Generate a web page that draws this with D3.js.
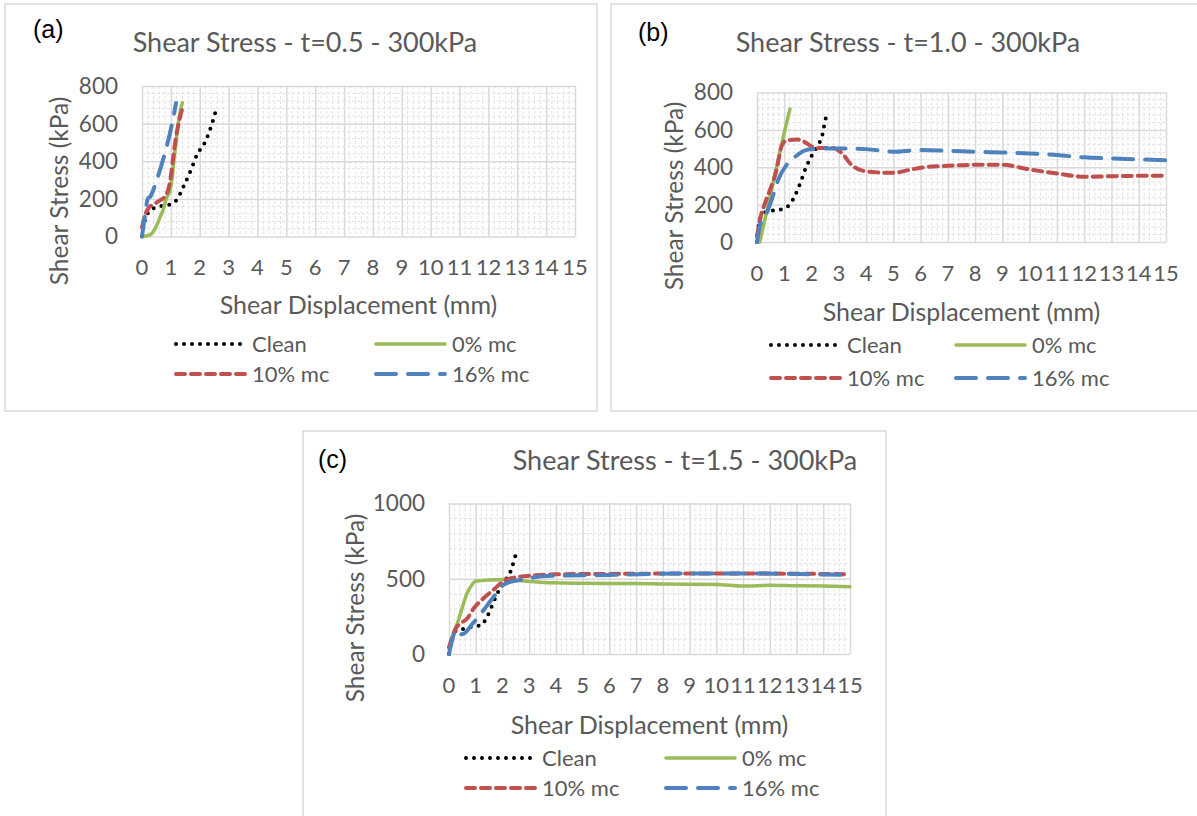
<!DOCTYPE html>
<html>
<head>
<meta charset="utf-8">
<script src="https://cdn.jsdelivr.net/npm/d3@7"></script>
<style>
	body { margin: 0; background: #fff; }
	svg text { font-family: Lato, 'Open Sans', sans-serif; fill: #595959; }
</style>
</head>
<body>
<svg id="chart" width="1197" height="816"></svg>
<script>
(function () {

	'use strict';

	var seriesNames = ['Clean', '0% mc', '10% mc', '16% mc'];
	var panelLabels = ['(a)', '(b)', '(c)'];
	var chartTitles = ['Shear Stress - t=0.5 - 300kPa', 'Shear Stress - t=1.0 - 300kPa', 'Shear Stress - t=1.5 - 300kPa'];
	var xTitle = 'Shear Displacement (mm)';
	var yTitle = 'Shear Stress (kPa)';
	var xTicks = d3.range(0, 16);
	var yTicksAB = [0, 200, 400, 600, 800];
	var yTicksC = [0, 500, 1000];

	// t = 0.5
	var cleanA = [[0, 0], [0.15, 110], [0.4, 150], [0.7, 163], [1.0, 172], [1.2, 195], [1.45, 270], [1.7, 355], [1.9, 433], [2.2, 506], [2.4, 588], [2.58, 680]];
	var zeroA = [[0, 0], [0.28, 9], [0.45, 40], [0.62, 100], [0.74, 146], [0.85, 205], [0.97, 244], [1.03, 297], [1.12, 422], [1.2, 529], [1.31, 654], [1.4, 711]];
	var tenA = [[0, 48], [0.1, 110], [0.22, 150], [0.4, 170], [0.6, 190], [0.8, 215], [0.92, 255], [1.0, 320], [1.08, 420], [1.17, 520], [1.28, 610], [1.42, 690]];
	var sixteenA = [[0, 0], [0.1, 110], [0.2, 200], [0.3, 215], [0.5, 295], [0.75, 420], [1.0, 570], [1.18, 710]];

	// t = 1.0
	var cleanB = [[0, 0], [0.05, 80], [0.2, 150], [0.45, 165], [0.7, 170], [1.0, 180], [1.2, 200], [1.4, 250], [1.6, 320], [1.8, 400], [2.0, 460], [2.2, 510], [2.4, 575], [2.5, 650], [2.6, 695]];
	var zeroB = [[0.1, 0], [0.4, 190], [0.7, 390], [1.0, 585], [1.21, 712]];
	var tenB = [[0, 30], [0.11, 120], [0.3, 210], [0.48, 280], [0.72, 388], [0.9, 512], [1.09, 545], [1.5, 548], [1.76, 534], [2.0, 512], [2.3, 503], [2.75, 503], [3.1, 477], [3.46, 414], [3.95, 379], [4.5, 372], [5.0, 370], [5.66, 388], [6.15, 400], [7, 408], [8, 413], [9, 413], [10, 388], [11, 367], [12, 349], [13, 352], [14, 354], [15, 354]];
	var sixteenB = [[0, 0], [0.17, 120], [0.29, 137], [0.54, 227], [0.78, 334], [1.09, 414], [1.39, 455], [1.88, 495], [2.6, 500], [3.2, 500], [4, 497], [5, 483], [6, 492], [7, 488], [8, 483], [9, 479], [10, 474], [11, 465], [12, 453], [13, 447], [14, 442], [15, 438]];

	// t = 1.5
	var cleanC = [[0, 0], [0.1, 90], [0.3, 160], [0.62, 169], [0.93, 185], [1.2, 191], [1.4, 240], [1.52, 282], [1.65, 338], [1.77, 387], [1.9, 435], [2.05, 480], [2.23, 522], [2.35, 570], [2.45, 635], [2.58, 687]];
	var zeroC = [[0, 40], [0.12, 113], [0.25, 169], [0.43, 270], [0.68, 405], [0.87, 462], [0.99, 484], [1.43, 491], [2.17, 495], [2.91, 484], [3.9, 473], [5, 470], [7, 468], [8, 465], [10, 462], [11, 451], [12, 456], [13, 453], [14, 451], [15, 447]];
	var tenC = [[0, 45], [0.04, 68], [0.25, 169], [0.43, 203], [0.68, 236], [0.93, 304], [1.3, 372], [1.67, 428], [2.04, 484], [2.42, 507], [2.91, 518], [3.4, 525], [4.03, 530], [6, 532], [9, 535], [11, 535], [15, 530]];
	var sixteenC = [[0, 0], [0.1, 80], [0.2, 140], [0.3, 158], [0.43, 131], [0.56, 135], [0.7, 160], [0.85, 195], [1.0, 225], [1.2, 270], [1.5, 340], [1.8, 410], [2.0, 455], [2.3, 480], [2.6, 490], [3, 505], [4, 520], [6, 525], [9, 535], [11, 535], [15, 525]];

	var lineColors = ['#000000', '#9BBB59', '#C0504D', '#4F81BD'];
	var lineDashes = ['0,8', null, '9,6', '20,12'];
	var lineWidths = [4, 3.5, 4, 4];

	var panels = [
		{
			box: [5, 4, 597, 411], plot: [142, 86, 575, 236.5], yMax: 800, yTicks: yTicksAB, yMinor: 40,
			series: [cleanA, zeroA, tenA, sixteenA], labelAt: [33, 38], titleAt: [305, 52], yTitleAt: [59, 191], xTitleY: 314,
			legendRows: [344, 374], legendCols: [176, 376]
		},
		{
			box: [611, 4, 1199, 411], plot: [757, 92.5, 1166, 242], yMax: 800, yTicks: yTicksAB, yMinor: 40,
			series: [cleanB, zeroB, tenB, sixteenB], labelAt: [638, 41], titleAt: [908, 52], yTitleAt: [674, 196], xTitleY: 321,
			legendRows: [345, 378], legendCols: [771, 956]
		},
		{
			box: [303, 431, 886, 830], plot: [449, 503.5, 850, 654], yMax: 1000, yTicks: yTicksC, yMinor: 100,
			series: [cleanC, zeroC, tenC, sixteenC], labelAt: [318, 468], titleAt: [685, 470], yTitleAt: [355, 608], xTitleY: 734,
			legendRows: [758, 788], legendCols: [466, 666]
		}
	];

	var svg = d3.select('#chart');

	panels.forEach(function (p, i) {
		drawPanel(p, i);
	});

	function drawPanel(p, i) {
		var g = svg.append('g');

		g.append('rect')
			.attr('x', p.box[0])
			.attr('y', p.box[1])
			.attr('width', p.box[2] - p.box[0])
			.attr('height', p.box[3] - p.box[1])
			.attr('fill', '#fff')
			.attr('stroke', '#d9d9d9')
			.attr('stroke-width', 1.5);

		var x = d3.scaleLinear().domain([0, 15]).range([p.plot[0], p.plot[2]]);
		var y = d3.scaleLinear().domain([0, p.yMax]).range([p.plot[3], p.plot[1]]);

		// minor grid
		var xMinor = d3.range(0, 15.001, 0.2).filter(function (v) { return Math.abs(v - Math.round(v)) > 0.01; });
		var yMinor = d3.range(0, p.yMax + 0.1, p.yMinor).filter(function (v) { return p.yTicks.indexOf(v) < 0; });

		g.selectAll('.vminor').data(xMinor).enter().append('line')
			.attr('x1', function (d) { return x(d); })
			.attr('x2', function (d) { return x(d); })
			.attr('y1', y(p.yMax))
			.attr('y2', y(0))
			.attr('stroke', '#e2e2e2')
			.attr('stroke-dasharray', '3,2');

		g.selectAll('.hminor').data(yMinor).enter().append('line')
			.attr('x1', x(0))
			.attr('x2', x(15))
			.attr('y1', function (d) { return y(d); })
			.attr('y2', function (d) { return y(d); })
			.attr('stroke', '#e2e2e2')
			.attr('stroke-dasharray', '3,2');

		// major grid
		g.append('g')
			.attr('transform', 'translate(0,' + y(0) + ')')
			.call(d3.axisBottom(x).tickValues(xTicks).tickSize(-(y(0) - y(p.yMax))).tickFormat(''))
			.call(styleGrid);

		g.append('g')
			.attr('transform', 'translate(' + x(0) + ',0)')
			.call(d3.axisLeft(y).tickValues(p.yTicks).tickSize(-(x(15) - x(0))).tickFormat(''))
			.call(styleGrid);

		// tick labels
		g.selectAll('.xlab').data(xTicks).enter().append('text')
			.attr('x', function (d) { return x(d); })
			.attr('y', y(0) + 31)
			.attr('dy', '0.35em')
			.attr('text-anchor', 'middle')
			.style('font-size', '22px')
			.text(function (d) { return d; });

		g.selectAll('.ylab').data(p.yTicks).enter().append('text')
			.attr('x', x(0) - 24)
			.attr('y', function (d) { return y(d); })
			.attr('dy', '0.35em')
			.attr('text-anchor', 'end')
			.style('font-size', '22.5px')
			.text(function (d) { return d; });

		// series
		var line = d3.line()
			.x(function (d) { return x(d[0]); })
			.y(function (d) { return y(d[1]); })
			.curve(d3.curveMonotoneX);

		p.series.forEach(function (s, k) {
			g.append('path')
				.datum(s)
				.attr('d', line)
				.attr('fill', 'none')
				.attr('stroke', lineColors[k])
				.attr('stroke-width', lineWidths[k])
				.attr('stroke-linecap', 'round')
				.attr('stroke-dasharray', lineDashes[k]);
		});

		// texts
		g.append('text')
			.attr('x', p.labelAt[0])
			.attr('y', p.labelAt[1])
			.style('font-family', "'Liberation Sans', Arial, sans-serif")
			.style('font-size', '25px')
			.style('fill', '#000')
			.text(panelLabels[i]);

		g.append('text')
			.attr('x', p.titleAt[0])
			.attr('y', p.titleAt[1])
			.attr('text-anchor', 'middle')
			.style('font-size', '27px')
			.text(chartTitles[i]);

		g.append('text')
			.attr('transform', 'translate(' + p.yTitleAt[0] + ',' + p.yTitleAt[1] + ') rotate(-90)')
			.attr('text-anchor', 'middle')
			.attr('dy', '0.35em')
			.style('font-size', '24.5px')
			.text(yTitle);

		g.append('text')
			.attr('x', (x(0) + x(15)) / 2)
			.attr('y', p.xTitleY)
			.attr('text-anchor', 'middle')
			.style('font-size', '25px')
			.text(xTitle);

		// legend
		seriesNames.forEach(function (name, k) {
			var lx = p.legendCols[k % 2];
			var ly = p.legendRows[Math.floor(k / 2)];
			g.append('line')
				.attr('x1', lx)
				.attr('x2', lx + 69)
				.attr('y1', ly)
				.attr('y2', ly)
				.attr('stroke', lineColors[k])
				.attr('stroke-width', lineWidths[k])
				.attr('stroke-linecap', 'round')
				.attr('stroke-dasharray', lineDashes[k]);
			g.append('text')
				.attr('x', lx + 76)
				.attr('y', ly)
				.attr('dy', '0.35em')
				.style('font-size', '22px')
				.text(name);
		});
	}

	function styleGrid(sel) {
		sel.select('.domain').remove();
		sel.selectAll('.tick line')
			.attr('stroke', '#d9d9d9')
			.attr('stroke-width', 1.5);
	}

})();
</script>
</body>
</html>
